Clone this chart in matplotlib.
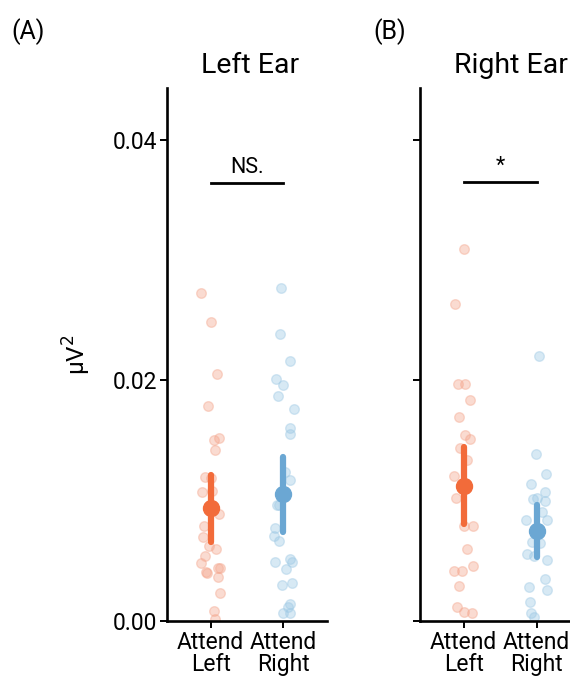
import numpy as np
import matplotlib.pyplot as plt

plt.rcParams['font.family'] = ['Roboto', 'DejaVu Sans']

# values (uV^2)
groups = ['Attend\nLeft', 'Attend\nRight']

left_att_left = [0.02725, 0.02484, 0.02054, 0.01785, 0.01524, 0.01505, 0.01419, 0.01195,
                 0.01186, 0.01073, 0.01084, 0.00887, 0.00793, 0.00701, 0.00624, 0.00601,
                 0.00543, 0.0048, 0.0041, 0.00402, 0.00443, 0.00443, 0.00368, 0.0023,
                 0.00083, 0.00014]
left_att_left_jit = [-0.14, 0.01, 0.08, -0.04, 0.12, 0.04, 0.06, -0.08, 0.0, -0.12, 0.02,
                     0.12, -0.09, -0.10, -0.03, 0.07, -0.08, -0.13, -0.07, -0.05, 0.10,
                     0.13, 0.10, 0.13, 0.04, 0.06]
left_att_right = [0.02767, 0.02387, 0.02165, 0.02015, 0.01963, 0.01869, 0.0176, 0.01602,
                  0.01555, 0.01242, 0.01173, 0.00965, 0.00965, 0.00776, 0.00707, 0.00668,
                  0.00493, 0.00513, 0.00493, 0.00432, 0.00299, 0.00313, 0.00139, 0.00114,
                  0.00069, 0.00069]
left_att_right_jit = [-0.04, -0.05, 0.09, -0.10, 0.00, -0.07, 0.14, 0.09, 0.09, 0.02, 0.09,
                      -0.06, -0.09, -0.12, -0.13, -0.06, -0.11, 0.09, 0.12, 0.03, -0.02,
                      0.11, 0.09, 0.06, 0.00, 0.09]

right_att_left = [0.03091, 0.02636, 0.01968, 0.01968, 0.01838, 0.01699, 0.01547, 0.01511,
                  0.01441, 0.01339, 0.01206, 0.01025, 0.0079, 0.0079, 0.00596, 0.0046,
                  0.00416, 0.00416, 0.00291, 0.00114, 0.00077, 0.00064]
right_att_left_jit = [0.0, -0.12, -0.08, 0.02, 0.09, -0.07, 0.02, 0.08, -0.05, 0.05, -0.13,
                      -0.11, 0.0, 0.12, 0.04, 0.12, -0.14, -0.02, -0.07, -0.09, 0.0, 0.11]
right_att_right = [0.02206, 0.01386, 0.0122, 0.01137, 0.01075, 0.01025, 0.01012, 0.01001,
                   0.00909, 0.0084, 0.0084, 0.0066, 0.00646, 0.00555, 0.00541, 0.00507,
                   0.00352, 0.00285, 0.00258, 0.00155, 0.00064, 0.00031]
right_att_right_jit = [0.03, -0.01, 0.13, -0.08, 0.12, 0.01, -0.05, 0.12, 0.08, -0.15, 0.14,
                       -0.06, 0.05, -0.13, -0.04, 0.14, 0.12, -0.10, 0.15, -0.09, -0.07, -0.04]

# mean and interval per group
left_mean = [0.00937, 0.01056]
left_lo = [0.0066, 0.00743]
left_hi = [0.01214, 0.01366]
right_mean = [0.01125, 0.00748]
right_lo = [0.00807, 0.00535]
right_hi = [0.01444, 0.00965]

panels = [
    dict(title='Left Ear', tag='(A)', pts=[left_att_left, left_att_right],
         jit=[left_att_left_jit, left_att_right_jit], mean=left_mean, lo=left_lo,
         hi=left_hi, sig='NS.', sig_y=0.0364, title_x=0.52),
    dict(title='Right Ear', tag='(B)', pts=[right_att_left, right_att_right],
         jit=[right_att_left_jit, right_att_right_jit], mean=right_mean, lo=right_lo,
         hi=right_hi, sig='*', sig_y=0.0365, title_x=0.57),
]

pt_cols = ['#F4A58C', '#9CC8E4']
main_cols = ['#F26B3A', '#6BA7D3']

fig = plt.figure(figsize=(5.7, 6.78), dpi=100)
lefts = [0.293, 0.737]
for k, p in enumerate(panels):
    ax = fig.add_axes([lefts[k], 0.084, 0.281, 0.786])
    for i in range(2):
        x = np.array(p['jit'][i]) + i + 1
        ax.scatter(x, p['pts'][i], s=48, color=pt_cols[i], alpha=0.4,
                   edgecolors=pt_cols[i], linewidths=1.0, zorder=2)
        ax.plot([i + 1, i + 1], [p['lo'][i], p['hi'][i]], color=main_cols[i],
                lw=4.5, solid_capstyle='round', zorder=3)
        ax.plot(i + 1, p['mean'][i], 'o', color=main_cols[i], ms=11.5, zorder=4)
    ax.plot([1, 2], [p['sig_y'], p['sig_y']], color='black', lw=2)
    ax.text(1.5, p['sig_y'] + 0.0004, p['sig'], ha='center', va='bottom', fontsize=15.5)
    ax.set_xlim(0.4, 2.6)
    ax.set_ylim(0, 0.0443)
    ax.set_xticks([1, 2])
    ax.set_xticklabels(groups, fontsize=16.5, linespacing=0.95)
    ax.set_yticks([0, 0.02, 0.04])
    if k == 0:
        ax.set_yticklabels(['0.00', '0.02', '0.04'], fontsize=16.5)
        ax.set_ylabel('μV$^2$', fontsize=17.5, labelpad=14)
    else:
        ax.set_yticklabels([])
    for s in ['top', 'right']:
        ax.spines[s].set_visible(False)
    for s in ['left', 'bottom']:
        ax.spines[s].set_linewidth(1.9)
    ax.tick_params(width=1.4, length=5, pad=2)
    ax.set_title(p['title'], fontsize=20.5, pad=11, x=p['title_x'])

fig.text(0.02, 0.953, '(A)', fontsize=18, va='center')
fig.text(0.655, 0.953, '(B)', fontsize=18, va='center')

fig.savefig('out.png', dpi=100)
